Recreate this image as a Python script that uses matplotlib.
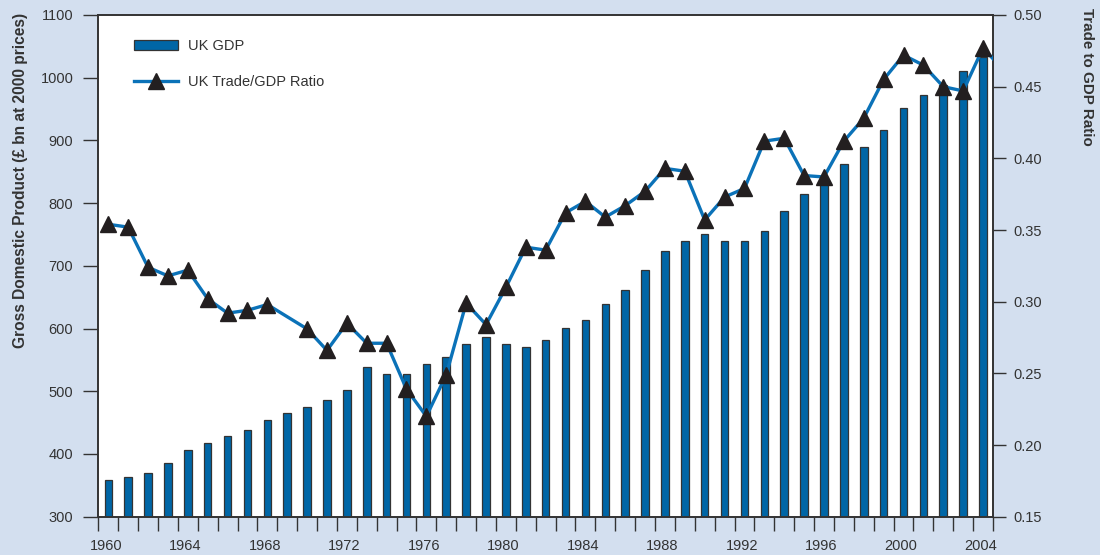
import matplotlib
matplotlib.use("Agg")
import matplotlib.pyplot as plt
import numpy as np

plt.rcParams['font.family'] = ['Liberation Sans', 'DejaVu Sans']

gdp_years = list(range(1960, 2005))
gdp = [358, 364, 369, 385, 406, 417, 428, 438, 454, 465,
       475, 486, 502, 538, 528, 528, 543, 554, 576, 586,
       576, 570, 581, 601, 613, 639, 661, 693, 724, 740,
       751, 740, 740, 756, 788, 815, 836, 862, 889, 916,
       952, 973, 989, 1010, 1033]

ratio_years = [1960, 1961, 1962, 1963, 1964, 1965, 1966, 1967, 1968,
               1970, 1971, 1972, 1973, 1974, 1975, 1976, 1977, 1978, 1979,
               1980, 1981, 1982, 1983, 1984, 1985, 1986, 1987, 1988, 1989,
               1990, 1991, 1992, 1993, 1994, 1995, 1996, 1997, 1998, 1999,
               2000, 2001, 2002, 2003, 2004, 2005]
ratio = [0.354, 0.352, 0.324, 0.318, 0.322, 0.302, 0.292, 0.294, 0.298,
         0.281, 0.266, 0.285, 0.271, 0.271, 0.239, 0.220, 0.249, 0.299, 0.284,
         0.310, 0.338, 0.336, 0.362, 0.370, 0.359, 0.367, 0.377, 0.393, 0.391,
         0.357, 0.373, 0.379, 0.412, 0.414, 0.388, 0.387, 0.412, 0.428, 0.455,
         0.472, 0.465, 0.450, 0.447, 0.477, 0.462]

left_ticks = [300, 400, 500, 600, 700, 800, 900, 1000, 1100]
right_ticks = [0.15, 0.20, 0.25, 0.30, 0.35, 0.40, 0.45, 0.50]
x_label_years = list(range(1960, 2005, 4))

BG = '#d3dfef'
BAR = '#0066a6'
LINE = '#0b72b8'
DARK = '#333333'

fig = plt.figure(figsize=(11, 5.55), dpi=100, facecolor=BG)
ax = fig.add_axes([0.0894, 0.069, 0.8133, 0.904])
ax.set_facecolor('white')

bx = np.array(gdp_years) + 0.5
bars = ax.bar(bx, gdp, width=0.38, color=BAR, edgecolor=DARK, linewidth=0.9,
              label='UK GDP', zorder=2)

ax.set_xlim(1960, 2005)
ax.set_ylim(300, 1100)
ax.set_yticks(left_ticks)
ax.set_yticklabels([str(v) for v in left_ticks])

ax.set_xticks(np.arange(1960, 2006), minor=True)
ax.set_xticks(np.array(x_label_years) + 0.38)
ax.set_xticklabels([str(y) for y in x_label_years])
ax.tick_params(axis='x', which='major', length=0, pad=16, labelsize=10.5, labelcolor=DARK)
ax.tick_params(axis='x', which='minor', length=10, width=1, color=DARK)
ax.tick_params(axis='y', length=11, width=1, color=DARK, pad=7, labelsize=10.5, labelcolor=DARK)

for s in ax.spines.values():
    s.set_color(DARK)
    s.set_linewidth(1.2)

ax2 = ax.twinx()
ax2.set_ylim(0.15, 0.50)
ax2.set_yticks(right_ticks)
ax2.set_yticklabels(['%.2f' % v for v in right_ticks])
ax2.tick_params(axis='y', length=9, width=1, color=DARK, pad=6, labelsize=10.5, labelcolor=DARK)
for s in ax2.spines.values():
    s.set_color(DARK)
    s.set_linewidth(1.2)

line, = ax2.plot(np.array(ratio_years) + 0.5, ratio, color=LINE, linewidth=2.4,
                 marker='^', markersize=11, markerfacecolor='#231f20',
                 markeredgecolor='#231f20', label='UK Trade/GDP Ratio', zorder=3)

leg = ax2.legend(handles=[bars, line], labels=['UK GDP', 'UK Trade/GDP Ratio'],
                 loc='upper left', bbox_to_anchor=(0.025, 0.978), frameon=False,
                 fontsize=10.5, handlelength=3.0, handletextpad=0.7,
                 labelspacing=1.5)
for t in leg.get_texts():
    t.set_color(DARK)

fig.text(0.0182, 0.977, 'Gross Domestic Product (£ bn at 2000 prices)', rotation=90,
         ha='center', va='top', fontsize=11.2, fontweight='bold', color=DARK)
fig.text(0.9886, 0.985, 'Trade to GDP Ratio', rotation=270,
         ha='center', va='top', fontsize=10.9, fontweight='bold', color=DARK)

fig.savefig('out.png', dpi=100, facecolor=BG)
